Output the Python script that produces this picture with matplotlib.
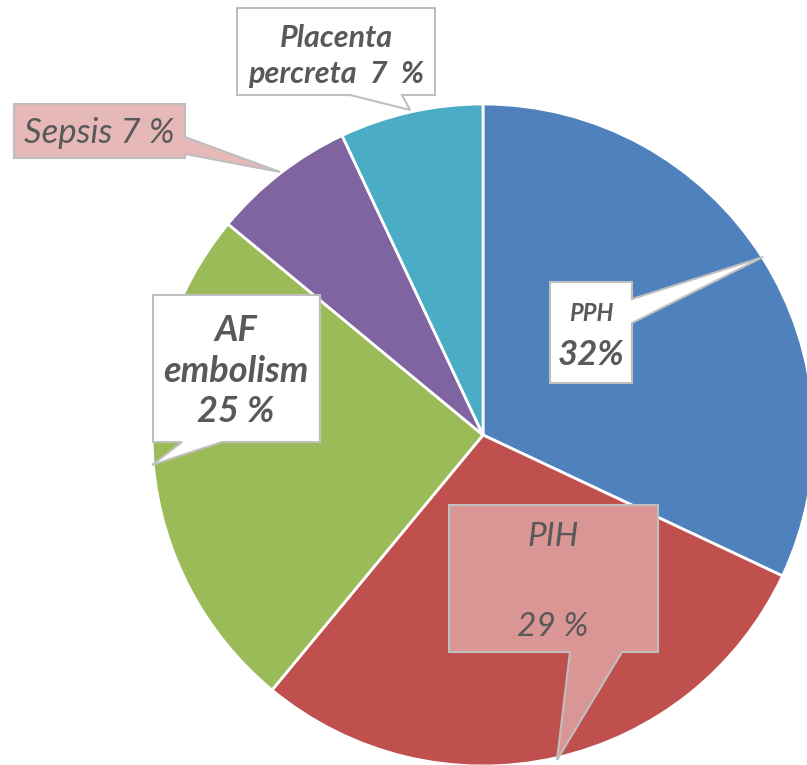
import matplotlib.pyplot as plt
from matplotlib.patches import Polygon

# data
causes = ['PPH', 'PIH', 'AF embolism', 'Sepsis', 'Placenta percreta']
share = [32, 29, 25, 7, 7]
colors = ['#4F81BD', '#C0504D', '#9BBB59', '#8064A2', '#4BACC6']

W, H = 807, 765
CX, CY, R = 483, 435, 331   # pie centre / radius in pixels (from top)

plt.rcParams['font.family'] = ['Lato', 'DejaVu Sans']

fig = plt.figure(figsize=(W / 100, H / 100), dpi=100)
ax = fig.add_axes([0, 0, 1, 1])

ax.pie(share, colors=colors, startangle=90, counterclock=False,
       center=(CX, H - CY), radius=R, frame=True,
       wedgeprops=dict(edgecolor='white', linewidth=2))
ax.set_xlim(0, W)
ax.set_ylim(0, H)
ax.set_aspect('equal')
ax.axis('off')


def callout(box, side, a, b, tip, fc):
    x0, y0, x1, y1 = box
    if side == 'bottom':
        pts = [(x0, y0), (x1, y0), (x1, y1), (b, y1), tip, (a, y1), (x0, y1)]
    else:
        pts = [(x0, y0), (x1, y0), (x1, a), tip, (x1, b), (x1, y1), (x0, y1)]
    pts = [(x, H - y) for x, y in pts]
    ax.add_patch(Polygon(pts, closed=True, facecolor=fc, edgecolor='#BFBFBF',
                         linewidth=1.5, zorder=5))


def txt(x, y, s, size, weight='bold', ls=1.2):
    ax.text(x, H - y, s, ha='center', va='center', fontsize=size,
            fontweight=weight, fontstyle='italic', color='#595959', zorder=6,
            linespacing=ls)


# PPH
callout((550, 282, 632, 383), 'right', 299, 323, (763, 257), 'white')
txt(591, 313, causes[0], 17)
txt(591, 355, f'{share[0]}%', 25)

# PIH
callout((449, 505, 658, 652), 'bottom', 570, 622, (557, 760), '#D99694')
txt(553, 537, causes[1], 24, 'normal')
txt(553, 627, f'{share[1]} %', 24, 'normal')

# AF embolism
callout((153, 295, 320, 442), 'bottom', 182, 222, (152, 465), 'white')
txt(236, 371, 'AF\nembolism\n' + f'{share[2]} %', 26, ls=1.28)

# Sepsis
callout((14, 104, 185, 158), 'right', 137, 154, (280, 172), '#E6B9B8')
txt(99, 133, f'{causes[3]} {share[3]} %', 25, 'normal')

# Placenta percreta
callout((237, 8, 435, 95), 'bottom', 350, 402, (410, 110), 'white')
txt(336, 56, 'Placenta\npercreta  ' + f'{share[4]}  %', 22, ls=1.35)

fig.savefig('out.png', dpi=100)
